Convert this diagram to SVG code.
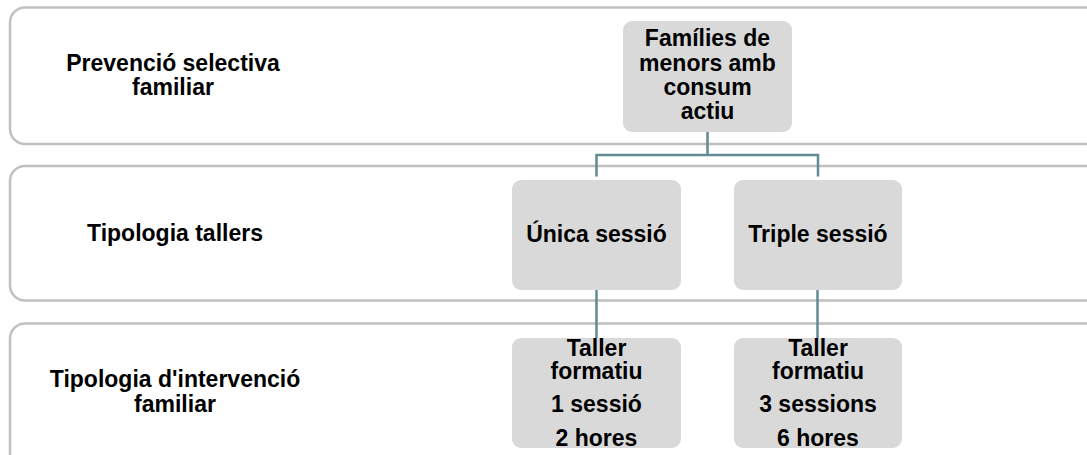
<svg xmlns="http://www.w3.org/2000/svg" width="1087" height="455" viewBox="0 0 1087 455">
<style>
.band{fill:#ffffff;stroke:#c0c0c0;stroke-width:2.5}
.node{fill:#d9d9d9;stroke:none}
.lbl{font-family:"Liberation Sans",Arial,sans-serif;font-weight:bold;font-size:23px;fill:#000000;text-anchor:middle}
.conn{fill:none;stroke:#628a93;stroke-width:2.5}
</style>
<rect width="1087" height="455" fill="#ffffff"/>
<g id="band1">
<rect class="band" x="10" y="7.5" width="1100" height="136.5" rx="15"/>
<text class="lbl" x="173" y="71">Prevenció selectiva</text>
<text class="lbl" x="173" y="95">familiar</text>
</g>
<g id="band2">
<rect class="band" x="10" y="166" width="1100" height="134.5" rx="15"/>
<text class="lbl" x="175" y="241">Tipologia tallers</text>
</g>
<g id="band3">
<rect class="band" x="10" y="323.5" width="1100" height="150" rx="15"/>
<text class="lbl" x="175" y="387">Tipologia d'intervenció</text>
<text class="lbl" x="175" y="412">familiar</text>
</g>
<g id="connectors">
<path class="conn" d="M707.5 132 V155 M596.5 176.5 V155 H818 V176.5"/>
<path class="conn" d="M596.5 290 V338"/>
<path class="conn" d="M817.5 290 V338"/>
</g>
<g id="node-families">
<rect class="node" x="623" y="21" width="169" height="111" rx="9"/>
<text class="lbl" x="707.5" y="46">Famílies de</text>
<text class="lbl" x="707.5" y="70.5">menors amb</text>
<text class="lbl" x="707.5" y="94.5">consum</text>
<text class="lbl" x="707.5" y="118.5">actiu</text>
</g>
<g id="node-unica">
<rect class="node" x="512" y="180" width="169" height="110" rx="9"/>
<text class="lbl" x="596.5" y="241.5">Única sessió</text>
</g>
<g id="node-triple">
<rect class="node" x="734" y="180" width="168" height="110" rx="9"/>
<text class="lbl" x="818" y="241.5">Triple sessió</text>
</g>
<g id="node-taller1">
<rect class="node" x="512" y="338" width="169" height="110" rx="9"/>
<text class="lbl" x="596.5" y="356">Taller</text>
<text class="lbl" x="596.5" y="379">formatiu</text>
<text class="lbl" x="596.5" y="412">1 sessió</text>
<text class="lbl" x="596.5" y="446">2 hores</text>
</g>
<g id="node-taller3">
<rect class="node" x="734" y="338" width="168" height="110" rx="9"/>
<text class="lbl" x="818" y="356">Taller</text>
<text class="lbl" x="818" y="379">formatiu</text>
<text class="lbl" x="818" y="412">3 sessions</text>
<text class="lbl" x="818" y="446">6 hores</text>
</g>
</svg>
